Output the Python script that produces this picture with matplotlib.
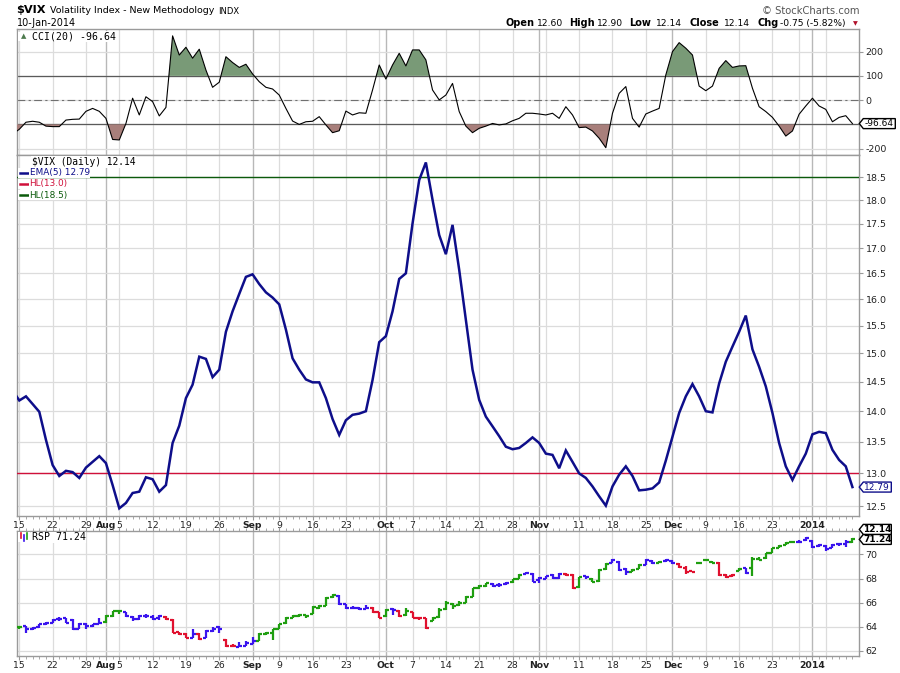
import numpy as np
import pandas as pd
import matplotlib
matplotlib.use('Agg')
import matplotlib.pyplot as plt
import matplotlib.ticker as mticker
import matplotlib.transforms as mtransforms
from matplotlib.patches import Polygon, Rectangle
from matplotlib.lines import Line2D

plt.rcParams['font.family'] = ['DejaVu Sans']
plt.rcParams['axes.unicode_minus'] = False

# trading days, index -1 = 2013-07-12 (just left of the chart)
holidays = pd.to_datetime(['2013-09-02', '2013-11-28', '2013-12-25', '2014-01-01'])
days = pd.bdate_range('2013-07-12', '2014-01-10')
days = days[~days.isin(holidays)]
x = np.arange(len(days)) - 1
pos = {d: i for d, i in zip(days, x)}

# $VIX EMA(5), Jul 12 .. Jan 10
ema5 = [14.35,
        14.18, 14.25, 14.12, 13.99, 13.53, 13.13, 12.96, 13.04, 13.02, 12.93,
        13.09, 13.18, 13.27, 13.16, 12.82, 12.47, 12.55, 12.70, 12.72, 12.94,
        12.91, 12.72, 12.82, 13.48, 13.76, 14.22, 14.45, 14.94, 14.90, 14.58,
        14.71, 15.39, 15.77, 16.10, 16.43, 16.48, 16.29, 16.13, 16.03, 15.90,
        15.43, 14.91, 14.71, 14.54, 14.49, 14.49, 14.22, 13.87, 13.61, 13.85,
        13.94, 13.96, 14.00, 14.53, 15.20, 15.31, 15.77, 16.39, 16.50, 17.51,
        18.44, 18.83, 18.01, 17.27, 16.88, 17.48, 16.57, 15.61, 14.71, 14.19,
        13.91, 13.75, 13.59, 13.42, 13.38, 13.40, 13.48, 13.57, 13.48, 13.31,
        13.29, 13.08, 13.36, 13.18, 13.00, 12.93, 12.80, 12.65, 12.51, 12.80,
        12.98, 13.11, 12.96, 12.74, 12.75, 12.77, 12.86, 13.20, 13.58, 13.97,
        14.25, 14.46, 14.25, 14.00, 13.98, 14.47, 14.85, 15.12, 15.39, 15.69,
        15.07, 14.76, 14.42, 13.97, 13.48, 13.11, 12.90, 13.11, 13.31, 13.62,
        13.66, 13.64, 13.37, 13.21, 13.11, 12.79]

# CCI(20)
cci = [-140,
       -120, -91, -87, -91, -107, -109, -109, -82, -79, -78,
       -46, -34, -46, -75, -162, -164, -96, 8, -61, 14,
       -6, -65, -30, 265, 186, 218, 173, 210, 124, 53,
       74, 179, 155, 135, 148, 108, 76, 53, 46, 21,
       -34, -86, -100, -89, -87, -68, -102, -134, -126, -45,
       -61, -52, -54, 42, 145, 87, 145, 193, 141, 207,
       207, 166, 42, 1, 21, 69, -47, -107, -134, -116,
       -107, -96, -102, -98, -85, -75, -54, -54, -57, -61,
       -54, -75, -27, -61, -113, -111, -127, -157, -196, -54,
       28, 56, -75, -111, -57, -45, -34, 104, 200, 237,
       214, 186, 58, 39, 58, 131, 163, 135, 141, 142,
       49, -27, -47, -71, -107, -148, -127, -58, -24, 8,
       -24, -38, -89, -71, -64, -96.64]

# RSP bars, Jul 15 .. Jan 10
rsp_open = [63.95, 64.05, 63.80, 63.95, 64.25, 64.35, 64.65, 64.70, 64.60, 63.85,
            64.20, 64.10, 64.25, 64.40, 64.90, 65.35, 65.20, 64.85, 64.65, 64.90,
            64.85, 64.70, 64.85, 64.60, 63.55, 63.40, 63.10, 63.40, 63.10, 63.65,
            64.00, 62.95, 62.40, 62.35, 62.45, 62.60, 62.85, 63.40, 63.45, 63.85,
            64.30, 64.75, 64.90, 64.95, 65.10, 65.60, 65.75, 66.50, 66.55, 65.85,
            65.60, 65.55, 65.50, 65.60, 65.20, 64.90, 65.45, 65.35, 64.95, 65.20,
            64.75, 64.70, 64.50, 64.80, 65.50, 65.90, 65.80, 66.00, 66.50, 67.25,
            67.35, 67.55, 67.45, 67.55, 67.70, 68.00, 68.40, 68.40, 67.90, 68.00,
            68.30, 68.05, 68.40, 68.30, 67.30, 68.20, 68.00, 67.80, 68.75, 69.30,
            69.40, 68.80, 68.55, 68.80, 69.15, 69.45, 69.30, 69.45, 69.45, 69.20,
            68.90, 68.60, 69.25, 69.50, 69.40, 69.30, 68.30, 68.20, 68.65, 68.85,
            68.90, 69.65, 69.70, 70.15, 70.55, 70.80, 71.00, 71.00, 71.15, 71.10,
            70.70, 70.70, 70.55, 70.85, 70.90, 71.00]
rsp_high = [64.10, 64.10, 64.00, 64.25, 64.40, 64.65, 64.80, 64.75, 64.65, 64.30,
            64.30, 64.25, 64.70, 64.95, 65.35, 65.40, 65.25, 64.90, 65.00, 65.10,
            64.95, 65.00, 64.90, 64.65, 63.60, 63.45, 63.80, 63.45, 63.70, 64.00,
            64.10, 63.00, 62.55, 62.75, 62.80, 63.15, 63.45, 63.55, 63.85, 64.25,
            64.80, 64.95, 65.05, 65.00, 65.70, 65.80, 66.45, 66.75, 66.60, 65.90,
            65.75, 65.65, 65.80, 65.65, 65.25, 65.45, 65.60, 65.40, 65.55, 65.25,
            64.80, 64.75, 64.80, 65.55, 66.10, 66.00, 66.10, 66.55, 67.25, 67.45,
            67.65, 67.65, 67.60, 67.75, 68.00, 68.35, 68.55, 68.45, 68.10, 68.25,
            68.40, 68.45, 68.45, 68.35, 68.15, 68.25, 68.05, 68.75, 69.25, 69.60,
            69.45, 68.85, 68.75, 69.20, 69.60, 69.50, 69.45, 69.60, 69.50, 69.25,
            69.00, 68.65, 69.40, 69.65, 69.45, 69.35, 68.35, 68.35, 68.85, 68.90,
            69.75, 69.80, 70.15, 70.55, 70.75, 71.00, 71.10, 71.15, 71.40, 71.15,
            70.85, 70.75, 70.85, 70.90, 71.15, 71.35]
rsp_low = [63.85, 63.45, 63.75, 63.90, 64.15, 64.30, 64.50, 64.30, 63.75, 63.80,
           63.85, 64.00, 64.20, 64.35, 64.85, 65.10, 64.85, 64.45, 64.60, 64.70,
           64.60, 64.60, 64.60, 63.45, 63.35, 63.05, 63.05, 62.90, 63.05, 63.60,
           63.50, 62.35, 62.30, 62.30, 62.40, 62.55, 62.80, 63.30, 62.90, 63.80,
           64.25, 64.70, 64.80, 64.70, 65.05, 65.50, 65.70, 66.40, 65.80, 65.45,
           65.50, 65.40, 65.45, 65.15, 64.70, 64.85, 64.95, 64.80, 64.90, 64.70,
           64.60, 63.80, 64.45, 64.75, 65.40, 65.50, 65.75, 65.95, 66.45, 67.15,
           67.30, 67.30, 67.30, 67.50, 67.65, 67.95, 68.35, 67.70, 67.65, 67.95,
           67.95, 68.00, 68.20, 67.15, 67.25, 67.95, 67.70, 67.75, 68.70, 69.25,
           68.65, 68.30, 68.50, 68.75, 69.10, 69.20, 69.25, 69.40, 69.20, 68.85,
           68.35, 68.50, 69.20, 69.45, 69.25, 68.25, 68.05, 68.15, 68.60, 68.40,
           68.20, 69.50, 69.65, 70.10, 70.50, 70.75, 70.95, 70.95, 71.10, 70.55,
           70.60, 70.30, 70.50, 70.70, 70.65, 70.95]
rsp_close = [64.00, 63.80, 63.93, 64.20, 64.35, 64.60, 64.67, 64.35, 63.85, 64.20,
             64.07, 64.20, 64.35, 64.90, 65.30, 65.30, 64.90, 64.62, 64.90, 64.90,
             64.67, 64.90, 64.67, 63.50, 63.40, 63.10, 63.40, 63.00, 63.65, 63.85,
             63.80, 62.45, 62.40, 62.40, 62.65, 62.85, 63.40, 63.47, 63.80, 64.20,
             64.75, 64.90, 65.00, 64.90, 65.65, 65.70, 66.40, 66.67, 65.85, 65.57,
             65.57, 65.50, 65.57, 65.20, 64.75, 65.38, 65.38, 64.90, 65.30, 64.75,
             64.75, 63.93, 64.75, 65.43, 66.00, 65.75, 65.97, 66.50, 67.20, 67.40,
             67.60, 67.40, 67.50, 67.67, 67.95, 68.30, 68.45, 67.75, 68.03, 68.20,
             68.03, 68.40, 68.30, 67.20, 68.10, 68.10, 67.75, 68.70, 69.20, 69.53,
             68.70, 68.57, 68.70, 69.12, 69.53, 69.26, 69.40, 69.53, 69.26, 68.93,
             68.57, 68.57, 69.32, 69.53, 69.32, 68.30, 68.16, 68.30, 68.77, 68.45,
             69.60, 69.53, 70.08, 70.49, 70.68, 70.96, 71.04, 71.04, 71.32, 70.63,
             70.77, 70.41, 70.77, 70.85, 71.04, 71.24]
rsp_color = ('gbbbbbbbbb' 'bbbgggbbbb' 'bbrrrrbrbb' 'brrbbbgggg' 'ggggggggbb'
             'bbbrrgbrgr' 'rrgggggggg' 'gbbbggbbbb' 'bbrrgbgggb' 'bbggbbgbbr'
             'rrgggrrrgb' 'gggggggbbb' 'bbbbbg')

# dates with an x-axis label
label_dates = ['2013-07-15', '2013-07-22', '2013-07-29', '2013-08-01', '2013-08-05',
               '2013-08-12', '2013-08-19', '2013-08-26', '2013-09-03', '2013-09-09',
               '2013-09-16', '2013-09-23', '2013-10-01', '2013-10-07', '2013-10-14',
               '2013-10-21', '2013-10-28', '2013-11-01', '2013-11-11', '2013-11-18',
               '2013-11-25', '2013-12-02', '2013-12-09', '2013-12-16', '2013-12-23',
               '2014-01-02']

quote_names = ['Open', 'High', 'Low', 'Close', 'Chg']
quote_values = ['12.60', '12.90', '12.14', '12.14', '-0.75 (-5.82%)']

ema5 = np.array(ema5)
cci = np.array(cci, dtype=float)
xr = x[1:]

# week / month lines
week_first = [pos[d] for k, d in enumerate(days) if k > 0 and d.weekday() < days[k - 1].weekday()]
month_first = [pos[d] for k, d in enumerate(days) if k > 0 and d.month != days[k - 1].month]
week_only = [w for w in week_first if w not in month_first]

tick_pos = [pos[pd.Timestamp(d)] for d in label_dates]
tick_txt = []
for d in label_dates:
    t = pd.Timestamp(d)
    if pos[t] in month_first:
        tick_txt.append(str(t.year) if t.month == 1 else t.strftime('%b'))
    else:
        tick_txt.append(str(t.day))

FW, FH = 900, 673
fig = plt.figure(figsize=(9, 6.73), dpi=100)
fig.patch.set_facecolor('white')


def axes_box(top, bottom):
    return [16.7 / FW, 1 - bottom / FH, 842.6 / FW, (bottom - top) / FH]


ax_cci = fig.add_axes(axes_box(29.3, 155))
ax_vix = fig.add_axes(axes_box(155, 515.5))
ax_rsp = fig.add_axes(axes_box(530.7, 655.7))

GRID = '#dcdcdc'
MONTH = '#b8b8b8'
for ax in (ax_cci, ax_vix, ax_rsp):
    ax.set_xlim(-0.39, 126.03)
    for s in ax.spines.values():
        s.set_color('#9a9a9a')
        s.set_linewidth(1.0)
    for w in week_only:
        ax.axvline(w, color=GRID, lw=0.9, zorder=0)
    for m in month_first:
        ax.axvline(m, color=MONTH, lw=1.0, zorder=0)
    ax.yaxis.grid(True, color=GRID, lw=0.9)
    ax.set_axisbelow(True)
    ax.tick_params(axis='y', which='major', direction='out', length=3, width=0.8,
                   color='#9a9a9a', labelsize=6.8, pad=1.5, labelcolor='#222222',
                   left=False, right=True, labelleft=False, labelright=True)
    ax.tick_params(axis='y', which='minor', left=False, right=False)

# --- CCI panel
ax_cci.plot(x, cci, color='black', lw=0.8, zorder=4)
ax_cci.fill_between(x, cci, 100, where=cci > 100, interpolate=True, color='#799a77', lw=0, zorder=3)
ax_cci.fill_between(x, cci, -100, where=cci < -100, interpolate=True, color='#a87f7b', lw=0, zorder=3)
ax_cci.axhline(100, color='#5a5a5a', lw=0.9, zorder=2)
ax_cci.axhline(-100, color='#5a5a5a', lw=0.9, zorder=2)
ax_cci.axhline(0, color='#707070', lw=0.8, ls=(0, (7, 3, 2, 3)), zorder=2)
ax_cci.set_ylim(-226, 292)
ax_cci.set_yticks([-200, -100, 0, 100, 200])
# the -100 label sits under the value tag
ax_cci.set_yticklabels(['-200', '', '0', '100', '200'])
ax_cci.set_xticks([])

# --- $VIX panel
ax_vix.set_yscale('log')
ax_vix.set_ylim(12.364, 18.998)
ax_vix.yaxis.set_major_locator(mticker.FixedLocator(np.arange(12.5, 19.0, 0.5)))
ax_vix.yaxis.set_major_formatter(mticker.FormatStrFormatter('%.1f'))
ax_vix.yaxis.set_minor_locator(mticker.NullLocator())
ax_vix.axhline(13.0, color='#d0103a', lw=1.0, zorder=3)
ax_vix.axhline(18.5, color='#0b5a0b', lw=1.0, zorder=3)
ax_vix.plot(x, ema5, color='#0e0e8a', lw=1.8, zorder=5, solid_joinstyle='miter')

# --- RSP panel
cmap = {'g': '#1f9e10', 'b': '#3a14ee', 'r': '#e0102e'}
cols = [cmap[c] for c in rsp_color]
ax_rsp.vlines(xr, rsp_low, rsp_high, colors=cols, lw=1.6, zorder=4)
ax_rsp.hlines(rsp_open, xr - 0.45, xr, colors=cols, lw=1.6, zorder=4)
ax_rsp.hlines(rsp_close, xr, xr + 0.45, colors=cols, lw=1.6, zorder=4)
ax_rsp.set_ylim(61.61, 71.96)
ax_rsp.set_yticks([62, 64, 66, 68, 70])

# x ticks
for ax in (ax_vix, ax_rsp):
    ax.set_xticks(tick_pos)
    ax.set_xticklabels(tick_txt)
    ax.set_xticks(xr, minor=True)
    ax.tick_params(axis='x', which='major', direction='out', length=3, width=0.8,
                   color='#9a9a9a', labelsize=6.7, pad=1, labelcolor='#222222')
    ax.tick_params(axis='x', which='minor', direction='out', length=2, width=0.6, color='#9a9a9a')
    for lbl in ax.get_xticklabels():
        if not lbl.get_text().isdigit() or len(lbl.get_text()) == 4:
            lbl.set_fontweight('bold')
ax_rsp.tick_params(axis='x', which='both', top=True)


# ---- text helpers (pixel positions, y from top)
def ftxt(xp, yp, s, **kw):
    return fig.text(xp / FW, 1 - yp / FH, s, **kw)


def white_box(x0, x1, yc, h):
    fig.add_artist(Rectangle((x0 / FW, 1 - (yc + h / 2) / FH), (x1 - x0) / FW, h / FH,
                             transform=fig.transFigure, facecolor='white',
                             edgecolor='none', zorder=2))


def legend_mark(yc, color):
    fig.add_artist(Line2D([19.5 / FW, 28.5 / FW], [1 - yc / FH] * 2, transform=fig.transFigure,
                          color=color, lw=1.8, zorder=3))


def value_tag(ax, val, label, color='black', weight='normal', width=31, dy=0):
    xp = ax.transAxes.transform((1, 0))[0]
    yp = ax.transData.transform((0, val))[1] + dy
    h = 10
    pts = [(xp, yp), (xp + 4, yp + h / 2), (xp + 4 + width, yp + h / 2),
           (xp + 4 + width, yp - h / 2), (xp + 4, yp - h / 2)]
    fig.add_artist(Polygon(pts, closed=True, transform=mtransforms.IdentityTransform(),
                           facecolor='white', edgecolor=color, lw=1.0, zorder=8))
    fig.text(xp + 4 + width / 2, yp, label, transform=mtransforms.IdentityTransform(),
             ha='center', va='center', fontsize=6.5, color=color, fontweight=weight, zorder=9)


# header
ftxt(16, 10, '$VIX', fontsize=8.2, fontweight='bold', va='center')
ftxt(50, 10.5, 'Volatility Index - New Methodology', fontsize=6.8, va='center')
ftxt(218, 11, 'INDX', fontsize=6, va='center')
ftxt(16.5, 23, '10-Jan-2014', fontsize=6.9, va='center')
ftxt(859.3, 10.7, '\u00a9 StockCharts.com', fontsize=7.2, ha='right', va='center', color='#555555')
name_x = [505, 569.3, 629.3, 690, 757.3]
val_x = [537.3, 596.7, 656, 724, 780]
for nx, vx, n, v in zip(name_x, val_x, quote_names, quote_values):
    ftxt(nx, 23.3, n, fontsize=7, fontweight='bold', va='center')
    ftxt(vx, 23.3, v, fontsize=6.6, va='center')
ftxt(855, 23.8, '\u25bc', fontsize=4.5, color='#b0102a', ha='center', va='center')

# CCI label
white_box(18, 28, 36, 9)
ftxt(23.5, 36.5, '\u25b2', fontsize=5, color='#4d7a4d', ha='center', va='center')
ftxt(31.5, 36.3, 'CCI(20) -96.64', family='DejaVu Sans Mono', fontsize=7.1, va='center',
     bbox=dict(facecolor='white', edgecolor='none', pad=0.4))

# VIX legend
ftxt(32, 162, '$VIX (Daily) 12.14', family='DejaVu Sans Mono', fontsize=6.9, va='center',
     bbox=dict(facecolor='white', edgecolor='none', pad=0.4))
for yc, txt, col in [(173, 'EMA(5) 12.79', '#0e0e8a'), (184, 'HL(13.0)', '#d0103a'),
                     (195, 'HL(18.5)', '#0b5a0b')]:
    white_box(17.5, 30, yc, 10)
    legend_mark(yc, col)
    ftxt(29.5, yc, txt, fontsize=6.4, color=col, va='center',
         bbox=dict(facecolor='white', edgecolor='none', pad=0.4))

# RSP label
white_box(18, 30, 537, 10)
for xi, y0, y1, col in [(20.5, 533, 538, '#e0102e'), (23.5, 535, 541, '#3a14ee'), (26.5, 533, 539, '#1f9e10')]:
    fig.add_artist(Line2D([xi / FW] * 2, [1 - y0 / FH, 1 - y1 / FH], transform=fig.transFigure,
                          color=col, lw=1.2, zorder=3))
ftxt(31.5, 537.3, 'RSP 71.24', family='DejaVu Sans Mono', fontsize=7.1, va='center',
     bbox=dict(facecolor='white', edgecolor='none', pad=0.4))

# value tags on the right
value_tag(ax_cci, cci[-1], '-96.64', width=32)
value_tag(ax_vix, ema5[-1], '12.79', color='#0e0e8a', width=28)
value_tag(ax_rsp, rsp_close[-1], '71.24', weight='bold', width=28)
value_tag(ax_rsp, rsp_close[-1], '12.14', weight='bold', width=28, dy=10)

fig.savefig('out.png', dpi=100)
